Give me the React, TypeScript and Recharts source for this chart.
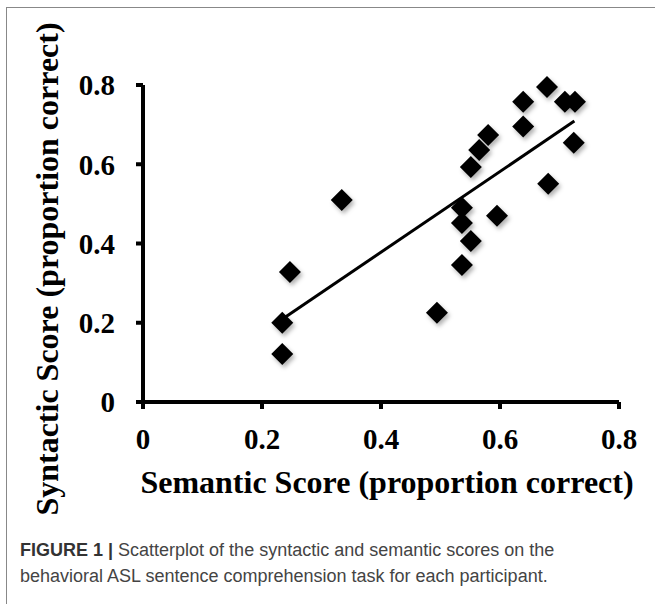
import { ScatterChart, Scatter, XAxis, YAxis } from 'recharts';

// semantic (x) vs syntactic (y) score per participant
const semantic = [0.234, 0.234, 0.247, 0.334, 0.494, 0.536, 0.536, 0.536, 0.551, 0.551, 0.565, 0.58, 0.595, 0.639, 0.639, 0.679, 0.681, 0.709, 0.724, 0.726];
const syntactic = [0.121, 0.2, 0.328, 0.51, 0.225, 0.346, 0.452, 0.49, 0.406, 0.593, 0.636, 0.674, 0.47, 0.695, 0.758, 0.795, 0.551, 0.758, 0.654, 0.758];

// fitted line ends, as drawn
const trendX = [0.232, 0.725];
const trendY = [0.207, 0.709];

const axisTicks = [0, 0.2, 0.4, 0.6, 0.8];

const points = semantic.map((x, i) => ({ x, y: syntactic[i] }));
const trend = trendX.map((x, i) => ({ x, y: trendY[i] }));

const serif = '"Liberation Serif", "Times New Roman", serif';
const tickStyle = { fontFamily: serif, fontWeight: 'bold', fontSize: 29, fill: '#000' };
const fmt = (v: number) => (v === 0 ? '0' : v.toFixed(1));

const Diamond = (props: any) => {
  const { cx, cy } = props;
  if (cx == null || cy == null) return <g />;
  const r = 11;
  return (
    <polygon
      points={`${cx},${cy - r} ${cx + r},${cy} ${cx},${cy + r} ${cx - r},${cy}`}
      fill="#000"
      style={{ filter: 'drop-shadow(2px 3px 2px rgba(0,0,0,0.3))' }}
    />
  );
};

export default function App() {
  return (
    <div style={{ position: 'absolute', left: 0, top: 0, width: 655, height: 604, background: '#fff', overflow: 'hidden' }}>
      <div style={{ position: 'absolute', left: 6, top: 7, width: 649, height: 597, borderTop: '1.5px solid #888', borderLeft: '1.5px solid #888' }} />
      <ScatterChart width={655} height={604} margin={{ top: 85, right: 36, bottom: 172, left: 0 }}>
        <XAxis
          type="number"
          dataKey="x"
          domain={[0, 0.8]}
          ticks={axisTicks}
          tickFormatter={fmt}
          axisLine={{ stroke: '#000', strokeWidth: 4 }}
          tickLine={{ stroke: '#000', strokeWidth: 4 }}
          tickSize={7}
          tickMargin={19}
          tick={tickStyle}
          interval={0}
        />
        <YAxis
          type="number"
          dataKey="y"
          domain={[0, 0.8]}
          ticks={axisTicks}
          tickFormatter={fmt}
          width={143}
          axisLine={{ stroke: '#000', strokeWidth: 4 }}
          tickLine={{ stroke: '#000', strokeWidth: 4 }}
          tickSize={7}
          tickMargin={21}
          tick={tickStyle}
          interval={0}
        />
        <Scatter data={points} shape={Diamond} isAnimationActive={false} />
        <Scatter data={trend} line={{ stroke: '#000', strokeWidth: 3 }} shape={() => <g />} isAnimationActive={false} />
      </ScatterChart>
      <svg width={655} height={604} style={{ position: 'absolute', left: 0, top: 0, pointerEvents: 'none' }}>
        <text x={387} y={493} textAnchor="middle" fontFamily={serif} fontWeight="bold" fontSize={32} fill="#000">
          Semantic Score (proportion correct)
        </text>
        <text x={58} y={269} transform="rotate(-90 58 269)" textAnchor="middle" fontFamily={serif} fontWeight="bold" fontSize={32} fill="#000">
          Syntactic Score (proportion correct)
        </text>
      </svg>
      <div style={{ position: 'absolute', left: 20, top: 537, width: 634, fontFamily: '"Liberation Sans", Arial, sans-serif', fontSize: 18, lineHeight: '26px', color: '#444' }}>
        <div><b style={{ color: '#333' }}>FIGURE 1 |</b> Scatterplot of the syntactic and semantic scores on the</div>
        <div>behavioral ASL sentence comprehension task for each participant.</div>
      </div>
    </div>
  );
}
